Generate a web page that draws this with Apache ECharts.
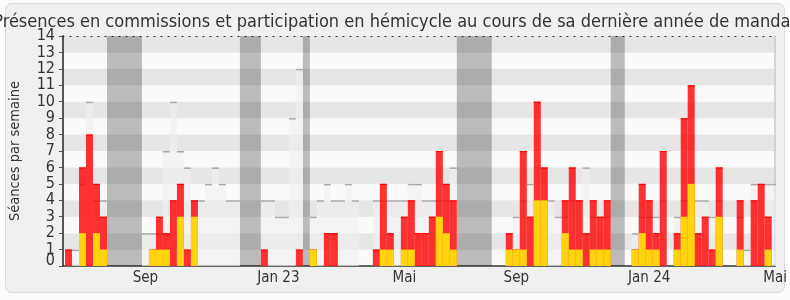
<!DOCTYPE html>
<html><head><meta charset="utf-8">
<script src="https://cdn.jsdelivr.net/npm/echarts@6/dist/echarts.min.js"></script>
<style>html,body{margin:0;padding:0;background:#fcfcfc}#c{width:790px;height:300px}</style>
</head><body><div id="c"></div><script>
// weekly values, week index 0..101
const commission = [
 1,0,6,8,5,3,0,0,0,0,
 0,0,1,3,2,4,5,1,4,0,
 0,0,0,0,0,0,0,0,1,0,
 0,0,0,1,0,1,0,2,2,0,
 0,0,0,0,1,5,2,0,3,4,
 2,2,3,7,5,4,0,0,0,0,
 0,0,0,2,1,7,3,10,6,0,
 0,4,6,4,2,4,3,4,0,0,
 0,1,5,4,2,7,0,2,9,11,
 2,3,1,6,0,0,4,0,4,5,
 3,0];
const interventions = [
 0,0,2,0,2,1,0,0,0,0,
 0,0,1,1,1,0,3,0,3,0,
 0,0,0,0,0,0,0,0,0,0,
 0,0,0,0,0,1,0,0,0,0,
 0,0,0,0,0,1,1,0,1,1,
 0,0,0,3,2,1,0,0,0,0,
 0,0,0,1,1,1,0,4,4,0,
 0,2,1,1,0,1,1,1,0,0,
 0,1,2,1,1,0,0,1,3,5,
 0,0,0,3,0,0,1,0,0,0,
 1,0];
const hemicycle = [
 1,1,5,10,4,4,0,0,0,0,
 0,2,2,2,7,10,7,6,4,4,
 5,6,5,4,4,0,0,0,4,4,
 3,3,9,12,0,3,4,5,4,4,
 5,4,0,0,4,4,4,4,4,5,
 5,4,4,4,4,6,0,0,0,0,
 0,0,0,2,3,4,5,4,4,4,
 3,3,4,4,6,3,3,3,0,0,
 0,2,3,3,3,4,0,3,4,4,
 4,4,3,4,0,0,3,1,5,5,
 5,5];
// vacation periods: [first week, week after last]
const vacStart = [6, 25, 34, 56, 78];
const vacEnd   = [11, 28, 35, 61, 80];
const labelWeeks = [11, 30, 48, 64, 83, 101];
const labelTexts = ['Sep', 'Jan 23', 'Mai', 'Sep', 'Jan 24', 'Mai'];
const yTickLabels = [1, 2, 3, 4, 5, 6, 7, 8, 9, 10, 11, 12, 13, 14];
const yZeroLabel = [0];
const title = 'Présences en commissions et participation en hémicycle au cours de sa dernière année de mandat';
const yName = 'Séances par semaine';

const FONT = '"DejaVu Sans Condensed", "DejaVu Sans", sans-serif';
const XMIN = -0.283, XMAX = 101.5, YMAX = 14;

function barRender(fill, top, lw) {
  return function (params, api) {
    const k = api.value(0), v = api.value(1);
    if (!v) return null;
    const p0 = api.coord([k, 0]), p1 = api.coord([k + 1, v]);
    const ch = [{type: 'rect', shape: {x: p0[0], y: p1[1], width: p1[0] - p0[0], height: p0[1] - p1[1]}, style: {fill: fill}}];
    if (top) ch.push({type: 'line', shape: {x1: p0[0], y1: p1[1] + lw / 2, x2: p1[0], y2: p1[1] + lw / 2}, style: {stroke: top, lineWidth: lw}});
    return {type: 'group', children: ch};
  };
}

const chart = echarts.init(document.getElementById('c'), null, {renderer: 'canvas'});
chart.setOption({
  animation: false,
  backgroundColor: 'transparent',
  graphic: [{type: 'rect', z: -100, silent: true,
    shape: {x: 5.5, y: 3.5, width: 779, height: 289, r: 6},
    style: {fill: '#f0f0f0', stroke: '#dcdcdc', lineWidth: 1}}],
  title: {text: title, left: 'center', top: 8,
    textStyle: {fontFamily: FONT, fontSize: 18, fontWeight: 'normal', color: '#333'}},
  grid: {left: 62, right: 10, top: 36, bottom: 34, containLabel: false},
  xAxis: [{
    type: 'value', min: XMIN, max: XMAX, position: 'bottom',
    axisLine: {show: true, onZero: false, lineStyle: {color: '#333', width: 1.5}},
    axisTick: {show: false},
    splitLine: {show: false},
    axisLabel: {
      customValues: labelWeeks.map(k => k + 0.5),
      formatter: v => { const i = labelWeeks.indexOf(Math.round(v - 0.5)); return i >= 0 ? labelTexts[i] : ''; },
      fontFamily: FONT, fontSize: 15, color: '#333', margin: 5
    }
  }, {
    type: 'value', min: XMIN, max: XMAX, position: 'top',
    axisLine: {show: true, onZero: false, lineStyle: {color: '#222', width: 1, type: [1, 6]}},
    axisTick: {show: false}, axisLabel: {show: false}, splitLine: {show: false}
  }],
  yAxis: [{
    type: 'value', min: 0, max: YMAX, interval: 1, position: 'left',
    name: yName, nameLocation: 'middle', nameGap: 40,
    nameTextStyle: {fontFamily: FONT, fontSize: 14.5, color: '#333'},
    axisLine: {show: true, onZero: false, lineStyle: {color: '#555', width: 2}},
    axisTick: {show: true, length: 4, lineStyle: {color: '#555'}},
    splitLine: {show: false},
    splitArea: {show: true, areaStyle: {color: ['#fafafa', '#e6e6e6']}},
    axisLabel: {
      customValues: yTickLabels, hideOverlap: false,
      fontFamily: FONT, fontSize: 16, color: '#333', margin: 8
    }
  }, {
    type: 'value', min: 0, max: YMAX, position: 'right',
    axisLine: {show: true, onZero: false, lineStyle: {color: '#c8c8c8', width: 1.5}},
    axisTick: {show: false}, axisLabel: {show: false}, splitLine: {show: false}
  }, {
    type: 'value', min: 0, max: YMAX, position: 'left', offset: 0,
    axisLine: {show: false}, axisTick: {show: false}, splitLine: {show: false},
    axisLabel: {
      customValues: yZeroLabel, verticalAlign: 'bottom', lineHeight: 10,
      fontFamily: FONT, fontSize: 16, color: '#333', margin: 8
    }
  }],
  series: [
    {type: 'custom', name: 'vacances', z: 1, clip: true,
      data: vacStart.map((s, i) => [s, vacEnd[i]]),
      renderItem: (params, api) => {
        const p0 = api.coord([api.value(0), YMAX]), p1 = api.coord([api.value(1), 0]);
        return {type: 'rect', shape: {x: p0[0], y: p0[1], width: p1[0] - p0[0], height: p1[1] - p0[1]},
          style: {fill: 'rgba(0,0,0,0.25)'}};
      }},
    {type: 'custom', name: 'hémicycle', z: 2, clip: true,
      data: hemicycle.map((v, k) => [k, v]),
      renderItem: barRender('rgba(239,239,239,0.65)', '#aaaaaa', 1.5)},
    {type: 'custom', name: 'présences commission', z: 3, clip: true,
      data: commission.map((v, k) => [k, v]),
      renderItem: barRender('rgba(255,0,0,0.8)', 'rgba(255,0,0,0.9)', 1.2)},
    {type: 'custom', name: 'interventions commission', z: 4, clip: true,
      data: interventions.map((v, k) => [k, v]),
      renderItem: barRender('#ffd30d', null, 0)}
  ]
});
</script></body></html>
